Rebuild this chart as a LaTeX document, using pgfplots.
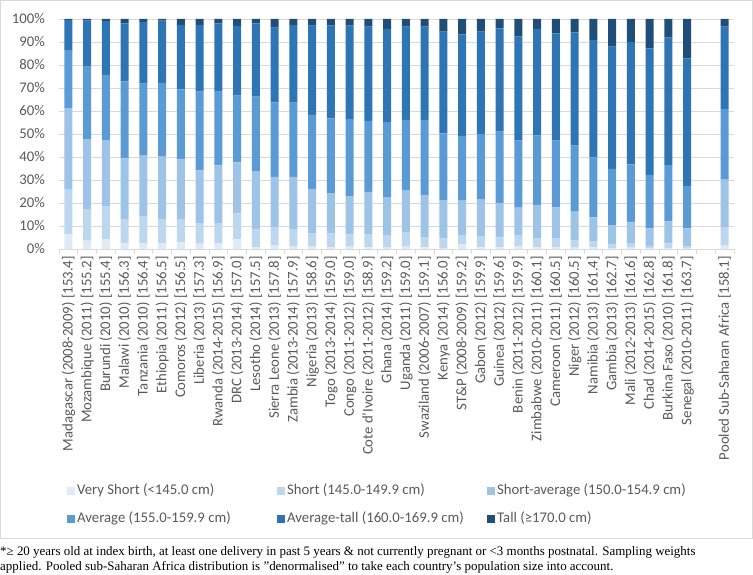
\documentclass[border=0pt]{standalone}
\usepackage{pgfplots}
\pgfplotsset{compat=1.18}
\usepackage{pgfplotstable}
\usepackage{fontspec}
\setmainfont{Carlito}
\newfontfamily\timesfont{Liberation Serif}
\definecolor{cvs}{HTML}{DEEBF7}
\definecolor{cs}{HTML}{BDD7EE}
\definecolor{csa}{HTML}{9DC3E6}
\definecolor{ca}{HTML}{5B9BD5}
\definecolor{cat}{HTML}{2E75B6}
\definecolor{ct}{HTML}{1F4E79}
\definecolor{tickgray}{HTML}{595959}
\definecolor{gridgray}{HTML}{D9D9D9}

\pgfplotstableread{
x vs s sa a at t
0 6.5 19.5 35.2 25.3 13.1 0.4
1 3.6 13.7 30.5 31.8 19.7 0.7
2 4.2 14.2 28.7 28.6 23.4 0.9
3 2.5 10.5 26.4 33.5 25.2 1.9
4 2.7 11.6 26.3 31.3 26.8 1.3
5 2.4 10.7 27.1 32.0 27.1 0.7
6 2.9 10.1 26.0 30.4 28.0 2.6
7 2.3 9.0 22.9 34.2 29.0 2.6
8 2.5 8.8 25.1 32.0 29.7 1.9
9 4.2 11.3 22.2 29.0 30.3 3.0
10 0.9 7.9 24.8 32.6 31.9 1.9
11 1.7 7.9 21.8 32.4 32.4 3.8
12 1.3 7.3 22.8 32.2 33.8 2.6
13 1.0 5.9 19.2 32.2 38.8 2.9
14 0.7 6.1 17.5 32.5 40.3 2.9
15 1.0 5.4 16.6 33.5 40.6 2.9
16 0.7 5.5 18.6 30.9 41.0 3.3
17 0.6 5.4 16.3 32.9 40.5 4.3
18 1.0 6.1 18.3 30.7 40.6 3.3
19 0.7 4.5 18.3 32.6 40.6 3.3
20 0.4 4.2 16.7 29.0 44.2 5.5
21 2.0 3.8 15.2 28.1 44.2 6.7
22 0.7 5.0 15.8 28.4 44.6 5.5
23 0.7 4.4 15.0 30.9 44.9 4.1
24 1.4 4.7 11.9 29.1 45.2 7.7
25 0.7 3.8 14.7 30.1 46.4 4.3
26 0.7 3.8 13.6 29.0 46.7 6.2
27 0.6 3.0 12.6 28.7 49.3 5.8
28 0.7 2.8 10.3 26.0 51.1 9.1
29 0.3 1.7 8.4 24.4 53.2 12.0
30 0.6 2.1 8.9 25.2 53.3 9.9
31 0.3 1.1 7.6 23.2 55.0 12.8
32 0.4 2.0 9.6 24.5 55.4 8.1
33 0.2 0.8 8.0 18.4 55.5 17.1
35 1.5 7.8 20.9 30.7 35.8 3.3
}\datatable

\begin{document}
\begin{tikzpicture}
\useasboundingbox (0,0) rectangle (753bp,575bp);
\draw[gridgray, line width=0.8bp] (0.5bp,37bp) rectangle (752.5bp,574.5bp);
\begin{axis}[
  at={(59bp,326bp)}, anchor=south west,
  scale only axis, width=675bp, height=230bp,
  font=\fontsize{14.8}{17}\selectfont,
  ybar stacked, bar width=7.8bp,
  xmin=-0.5, xmax=35.5, ymin=0, ymax=100,
  axis x line*=bottom, axis y line*=left,
  x axis line style={gridgray, line width=0.8bp},
  y axis line style={draw=none},
  ytick={0,10,...,100},
  yticklabels={0\%,10\%,20\%,30\%,40\%,50\%,60\%,70\%,80\%,90\%,100\%},
  ymajorgrids, grid style={gridgray, line width=0.8bp},
  major tick length=0pt,
  ytick style={draw=none},
  xtick={0,1,2,3,4,5,6,7,8,9,10,11,12,13,14,15,16,17,18,19,20,21,22,23,24,25,26,27,28,29,30,31,32,33,35},
  xticklabels={{Madagascar (2008-2009) [153.4]},{Mozambique (2011) [155.2]},{Burundi (2010) [155.4]},{Malawi (2010) [156.3]},{Tanzania (2010) [156.4]},{Ethiopia (2011) [156.5]},{Comoros (2012) [156.5]},{Liberia (2013) [157.3]},{Rwanda (2014-2015) [156.9]},{DRC (2013-2014) [157.0]},{Lesotho (2014) [157.5]},{Sierra Leone (2013) [157.8]},{Zambia (2013-2014) [157.9]},{Nigeria (2013) [158.6]},{Togo (2013-2014) [159.0]},{Congo (2011-2012) [159.0]},{Cote d’Ivoire (2011-2012) [158.9]},{Ghana (2014) [159.2]},{Uganda (2011) [159.0]},{Swaziland (2006-2007) [159.1]},{Kenya (2014) [156.0]},{ST\&P (2008-2009) [159.2]},{Gabon (2012) [159.9]},{Guinea (2012) [159.6]},{Benin (2011-2012) [159.9]},{Zimbabwe (2010-2011) [160.1]},{Cameroon (2011) [160.5]},{Niger (2012) [160.5]},{Namibia (2013) [161.4]},{Gambia (2013) [162.7]},{Mali (2012-2013) [161.6]},{Chad (2014-2015) [162.8]},{Burkina Faso (2010) [161.8]},{Senegal (2010-2011) [163.7]},{Pooled Sub-Saharan Africa [158.1]}},
  minor xtick={-0.5,0.5,...,35.5},
  xtick align=outside,
  minor tick length=5bp,
  minor x tick style={gridgray, line width=0.8bp},
  xticklabel style={rotate=90, anchor=east, inner xsep=7bp, inner ysep=0pt, text=tickgray},
  yticklabel style={anchor=east, inner xsep=14bp, text=tickgray},
  legend columns=3,
  legend image code/.code={\fill[#1] (0bp,-4bp) rectangle (8bp,4bp);},
  legend style={at={(axis description cs:0.01185,-1.113)}, anchor=west,
    draw=none, fill=none, inner sep=0pt, row sep=13.5bp,
    nodes={inner xsep=2bp, inner ysep=0pt, text height=11bp, text depth=3.5bp, text=tickgray}},
  legend cell align=left,
]
\addplot[fill=cvs, draw=none] table[x=x, y=vs]{\datatable};
\addlegendentry{\makebox[198bp][l]{Very Short (<145.0 cm)}}
\addplot[fill=cs, draw=none] table[x=x, y=s]{\datatable};
\addlegendentry{\makebox[198bp][l]{Short (145.0-149.9 cm)}}
\addplot[fill=csa, draw=none] table[x=x, y=sa]{\datatable};
\addlegendentry{\makebox[198bp][l]{Short-average (150.0-154.9 cm)}}
\addplot[fill=ca, draw=none] table[x=x, y=a]{\datatable};
\addlegendentry{\makebox[198bp][l]{Average (155.0-159.9 cm)}}
\addplot[fill=cat, draw=none] table[x=x, y=at]{\datatable};
\addlegendentry{\makebox[198bp][l]{Average-tall (160.0-169.9 cm)}}
\addplot[fill=ct, draw=none] table[x=x, y=t]{\datatable};
\addlegendentry{\makebox[198bp][l]{Tall (≥170.0 cm)}}
\end{axis}
\node[anchor=base west, inner sep=0pt, font=\timesfont\fontsize{13}{16}\selectfont] at (0bp,20bp) {*≥ 20 years old at index birth, at least one delivery in past 5 years \& not currently pregnant or <3 months postnatal. Sampling weights};
\node[anchor=base west, inner sep=0pt, font=\timesfont\fontsize{13}{16}\selectfont] at (0bp,5bp) {applied. Pooled sub-Saharan Africa distribution is ”denormalised” to take each country’s population size into account.};
\end{tikzpicture}
\end{document}
